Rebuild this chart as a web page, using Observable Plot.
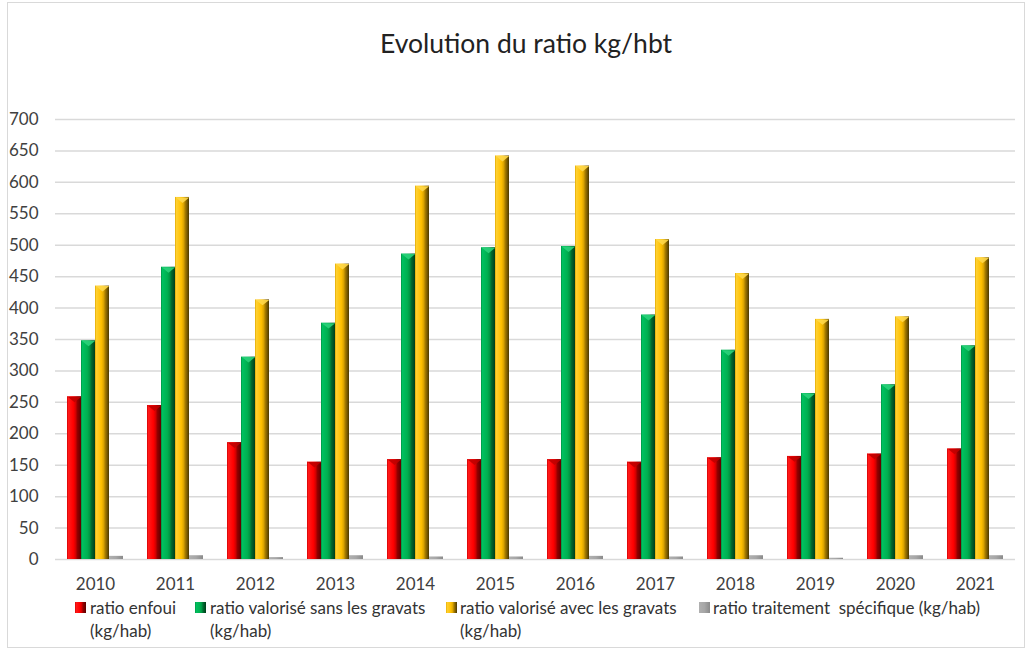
<!DOCTYPE html>
<html><head><meta charset="utf-8">
<script src="https://cdn.jsdelivr.net/npm/d3@7"></script>
<script src="https://cdn.jsdelivr.net/npm/@observablehq/plot@0.6"></script>
<style>
body{margin:0;background:#fff;font-family:Lato,sans-serif;}
#wrap{position:relative;width:1032px;height:652px;overflow:hidden;background:#fff;}
#frame{position:absolute;left:7px;top:2px;width:1018px;height:646px;border:1px solid #d9d9d9;box-sizing:border-box;}
#title{position:absolute;top:27px;left:10px;width:1032px;text-align:center;font-size:26.5px;color:#222;}
#chart{position:absolute;left:0;top:100px;}
.leg{position:absolute;font-size:17px;color:#333;line-height:23px;white-space:pre;}
.mk{position:absolute;width:11px;height:11px;}
</style></head>
<body>
<div id="wrap">
  <div id="frame"></div>
  <div id="title">Evolution du ratio kg/hbt</div>
  <div id="chart"></div>
  <div id="legend"></div>
</div>
<script>
const years = ["2010","2011","2012","2013","2014","2015","2016","2017","2018","2019","2020","2021"];
const seriesNames = [
  "ratio enfoui (kg/hab)",
  "ratio valorisé sans les gravats (kg/hab)",
  "ratio valorisé avec les gravats (kg/hab)",
  "ratio traitement spécifique (kg/hab)"
];
const legendLabels = [
  "ratio enfoui\n(kg/hab)",
  "ratio valorisé sans les gravats\n(kg/hab)",
  "ratio valorisé avec les gravats\n(kg/hab)",
  "ratio traitement  spécifique (kg/hab)"
];
const enfoui      = [259,245,186,155,159,159,159,155,162,164,168,176];
const sansGravats = [348,465,322,376,486,496,498,389,333,264,278,340];
const avecGravats = [435,576,413,470,594,642,626,509,455,382,386,480];
const traitement  = [5,6,3,6,4,4,5,4,6,2,6,6];
const yTicks = [0,50,100,150,200,250,300,350,400,450,500,550,600,650,700];

const seriesValues = [enfoui, sansGravats, avecGravats, traitement];
const data = years.flatMap((yr, i) => seriesNames.map((s, j) => ({year: yr, series: s, value: seriesValues[j][i]})));

const gradIds = ["gRed","gGreen","gYellow","gGray"];
const gradStops = [
  [[0,"#d00000"],[0.1,"#ff1a1a"],[0.45,"#ff0000"],[0.6,"#d80000"],[0.75,"#900000"],[1,"#5c0000"]],
  [[0,"#009040"],[0.1,"#00c060"],[0.45,"#00b050"],[0.6,"#009a45"],[0.75,"#006a30"],[1,"#003d1a"]],
  [[0,"#e0a800"],[0.1,"#ffd030"],[0.45,"#ffc000"],[0.6,"#e0a800"],[0.75,"#a07800"],[1,"#4a3800"]],
  [[0,"#b0b0b0"],[0.5,"#a6a6a6"],[1,"#8a8a8a"]]
];
const capColors = ["#c00000", "#2ad27a", "#ffd84a"];

// downward bevel cap drawn at the top of each bar
const capSymbol = {
  draw(ctx, size) {
    const r = Math.sqrt(size / Math.PI);
    ctx.moveTo(-r, 0);
    ctx.lineTo(r, 0);
    ctx.lineTo(0, r * 0.8);
    ctx.closePath();
  }
};

const chart = Plot.plot({
  width: 1032, height: 500,
  marginLeft: 55, marginRight: 17, marginTop: 19, marginBottom: 41,
  style: {fontFamily: "Lato", fontSize: "17px", color: "#404040", background: "transparent"},
  fx: {domain: years, padding: 0, label: null, tickSize: 0, tickPadding: 18},
  x: {domain: seriesNames, paddingInner: 0, paddingOuter: 0.76, axis: null},
  y: {domain: [0, 700], ticks: yTicks, label: null, tickSize: 0, tickPadding: 17},
  color: {domain: seriesNames, range: gradIds.map(id => `url(#${id})`)},
  marks: [
    Plot.ruleY(yTicks, {stroke: "#d9d9d9", strokeWidth: 1.5}),
    Plot.barY(data, {fx: "year", x: "series", y: "value", fill: "series"}),
    ...capColors.map((c, j) => Plot.dot(data, {
      filter: d => d.series === seriesNames[j],
      fx: "year", x: "series", y: "value",
      symbol: capSymbol, r: 6.8, fill: c, fillOpacity: 0.9, stroke: "none"
    }))
  ]
});

const svg = d3.select(chart.tagName.toLowerCase() === "svg" ? chart : chart.querySelector("svg"));
const defs = svg.insert("defs", ":first-child");
gradIds.forEach((id, k) => {
  const g = defs.append("linearGradient").attr("id", id).attr("x1", 0).attr("x2", 1).attr("y1", 0).attr("y2", 0);
  gradStops[k].forEach(([o, c]) => g.append("stop").attr("offset", o).attr("stop-color", c));
});
document.getElementById("chart").appendChild(chart);

const legendPos = [[75, 90], [195, 210], [446, 460], [699, 713]];
const lg = document.getElementById("legend");
legendLabels.forEach((lab, k) => {
  const stops = gradStops[k].map(([o, c]) => `${c} ${o * 100}%`).join(",");
  const m = document.createElement("div");
  m.className = "mk";
  m.style.left = legendPos[k][0] + "px";
  m.style.top = "602px";
  m.style.background = `linear-gradient(90deg, ${stops})`;
  lg.appendChild(m);
  const t = document.createElement("div");
  t.className = "leg";
  t.style.left = legendPos[k][1] + "px";
  t.style.top = "596px";
  t.textContent = lab;
  lg.appendChild(t);
});
</script>
</body></html>
